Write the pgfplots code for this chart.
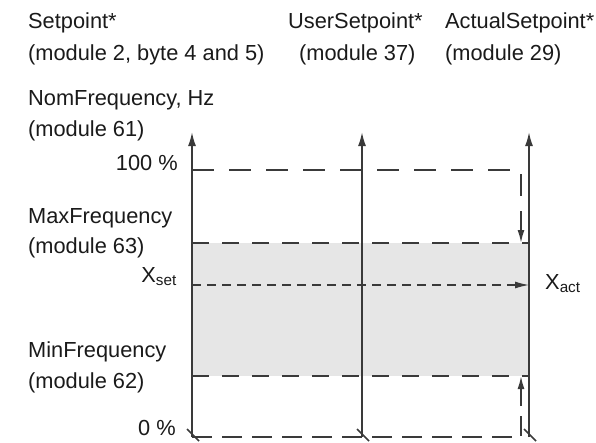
\documentclass[border=0pt]{standalone}
\usepackage{pgfplots}
\pgfplotsset{compat=1.18}
\usepackage{fontspec}
\setmainfont{Liberation Sans}
\usetikzlibrary{arrows.meta}
\definecolor{ln}{HTML}{3A3A3A}
\definecolor{band}{HTML}{E6E6E6}
\definecolor{txt}{HTML}{1A1A1A}
\tikzset{lbl/.style={inner sep=0pt, text=txt, font=\fontsize{21.8pt}{26pt}\selectfont}}
\begin{document}
\fontsize{21.8pt}{26pt}\selectfont
\begin{tikzpicture}
\begin{axis}[
  width=596pt, height=442pt, scale only axis,
  xmin=0, xmax=596, ymin=0, ymax=442, y dir=reverse,
  hide axis, clip=false,
]
% gray band between MinFrequency and MaxFrequency
\addplot[fill=band, draw=none] coordinates {(192,243) (529,243) (529,376) (192,376)};
% vertical axes
\addplot[ln, line width=1.8pt, -{Latex[length=14pt,width=8pt]}] coordinates {(192,437) (192,132)};
\addplot[ln, line width=1.8pt, -{Latex[length=14pt,width=8pt]}] coordinates {(362,437) (362,132)};
\addplot[ln, line width=1.8pt, -{Latex[length=14pt,width=8pt]}] coordinates {(529,437) (529,132)};
% break slashes at bottom
\addplot[ln, line width=1.6pt] coordinates {(187,429) (199,441)};
\addplot[ln, line width=1.6pt] coordinates {(357,429) (369,441)};
\addplot[ln, line width=1.6pt] coordinates {(524,429) (536,441)};
% 100 % line with dashed drop to MaxFrequency
\addplot[ln, line width=1.8pt, dash pattern=on 22pt off 15pt, -{Latex[length=13pt,width=7pt]}] coordinates {(192,170) (521,170) (521,243)};
% MaxFrequency line
\addplot[ln, line width=1.8pt, dash pattern=on 17pt off 13pt] coordinates {(192,243) (529,243)};
% MinFrequency line
\addplot[ln, line width=1.8pt, dash pattern=on 17pt off 13pt] coordinates {(192,376) (529,376)};
% 0 % line with dashed rise to MinFrequency
\addplot[ln, line width=1.8pt, dash pattern=on 20pt off 10pt, -{Latex[length=13pt,width=7pt]}] coordinates {(192,437) (521,437) (521,376)};
% Xset -> Xact
\addplot[ln, line width=1.2pt, dash pattern=on 9pt off 6pt, -{Latex[length=14pt,width=7pt]}] coordinates {(192,285) (529,285)};

\coordinate (BL) at (axis cs:0,442);
\coordinate (TR) at (axis cs:596,0);

% texts
\node[lbl, anchor=base west] at (axis cs:28,28) {Setpoint*};
\node[lbl, anchor=base west] at (axis cs:28,60) {(module 2, byte 4 and 5)};
\node[lbl, anchor=base west] at (axis cs:288,28) {UserSetpoint*};
\node[lbl, anchor=base west] at (axis cs:299,60) {(module 37)};
\node[lbl, anchor=base west] at (axis cs:445,28) {ActualSetpoint*};
\node[lbl, anchor=base west] at (axis cs:445,60) {(module 29)};
\node[lbl, anchor=base west] at (axis cs:28,105) {NomFrequency, Hz};
\node[lbl, anchor=base west] at (axis cs:28,136) {(module 61)};
\node[lbl, anchor=base east] at (axis cs:178,170) {100 \%};
\node[lbl, anchor=base west] at (axis cs:28,223) {MaxFrequency};
\node[lbl, anchor=base west] at (axis cs:28,253) {(module 63)};
\node[lbl, anchor=base east] at (axis cs:177,282) {X\textsubscript{set}};
\node[lbl, anchor=base west] at (axis cs:545,289) {X\textsubscript{act}};
\node[lbl, anchor=base west] at (axis cs:28,357) {MinFrequency};
\node[lbl, anchor=base west] at (axis cs:28,388) {(module 62)};
\node[lbl, anchor=base east] at (axis cs:176,435) {0 \%};
\end{axis}
\pgfresetboundingbox
\path (BL) rectangle (TR);
\end{tikzpicture}
\end{document}
